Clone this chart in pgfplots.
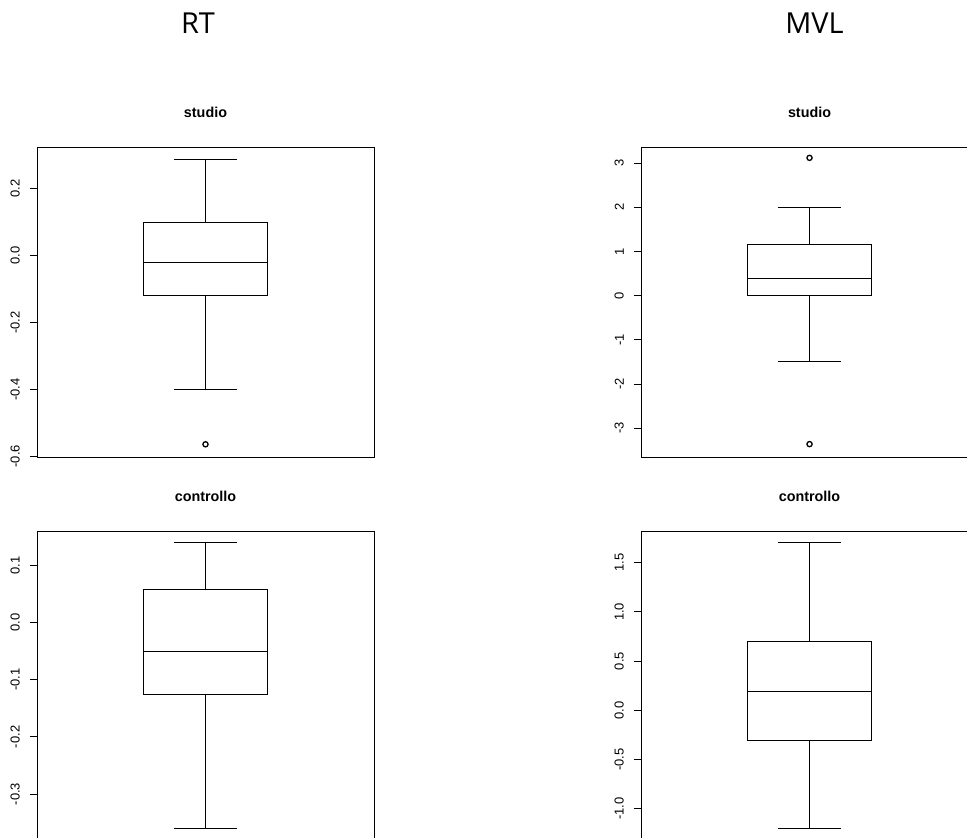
\documentclass[border=0pt]{standalone}
\usepackage{pgfplots}
\pgfplotsset{compat=1.18}
\usepgfplotslibrary{statistics}
\usepackage{fontspec}
\setmainfont{Liberation Sans}
\newfontfamily\headfont{Open Sans}
\begin{document}
\begin{tikzpicture}[x=1bp,y=1bp]
\pgfplotsset{
  rbox/.style={
    scale only axis, width=337bp, height=310bp,
    xmin=0.46, xmax=1.54,
    xtick=\empty,
    ytick pos=left,
    tick align=outside,
    major tick length=7bp,
    tick style={black, line width=0.9bp},
    axis line style={line width=1bp},
    yticklabel style={rotate=90, anchor=south, inner sep=0pt, font=\fontsize{13}{13}\selectfont},
    yticklabel shift=10bp,
    title style={at={(0.5,1)}, anchor=base, yshift=24bp, font=\bfseries\fontsize{14.4}{14.4}\selectfont},
    clip=false,
  },
  bx/.style={boxplot prepared={#1, draw position=1, box extend=0.4, whisker extend=0.2},
    boxplot/draw direction=y,
    black, solid, line width=1bp, mark=o, mark size=2.6bp, mark options={line width=1.3bp}},
}
% top-left: RT studio
\begin{axis}[rbox, at={(37bp,380.3bp)}, title={studio},
  ymin=-0.604, ymax=0.322,
  ytick={-0.6,-0.4,-0.2,0,0.2}, yticklabels={-0.6,-0.4,-0.2,0.0,0.2}]
\addplot[bx={lower whisker=-0.4, lower quartile=-0.121, median=-0.021, upper quartile=0.099, upper whisker=0.288}]
  table[row sep=\\, y index=0] {data\\ -0.564\\};
\end{axis}
% top-right: MVL studio
\begin{axis}[rbox, at={(641bp,380.3bp)}, title={studio},
  ymin=-3.667, ymax=3.35,
  ytick={-3,-2,-1,0,1,2,3}, yticklabels={-3,-2,-1,0,1,2,3}]
\addplot[bx={lower whisker=-1.49, lower quartile=0.0, median=0.39, upper quartile=1.155, upper whisker=2.0}]
  table[row sep=\\, y index=0] {data\\ 3.12\\ -3.36\\};
\end{axis}
% bottom-left: RT controllo
\begin{axis}[rbox, at={(37bp,-3.7bp)}, title={controllo},
  ymin=-0.3835, ymax=0.1594,
  ytick={-0.3,-0.2,-0.1,0,0.1}, yticklabels={-0.3,-0.2,-0.1,0.0,0.1}]
\addplot[bx={lower whisker=-0.360, lower quartile=-0.1249, median=-0.0508, upper quartile=0.059, upper whisker=0.1408}]
  coordinates {};
\end{axis}
% bottom-right: MVL controllo
\begin{axis}[rbox, at={(641bp,-3.7bp)}, title={controllo},
  ymin=-1.335, ymax=1.815,
  ytick={-1,-0.5,0,0.5,1,1.5}, yticklabels={-1.0,-0.5,0.0,0.5,1.0,1.5}]
\addplot[bx={lower whisker=-1.199, lower quartile=-0.302, median=0.193, upper quartile=0.697, upper whisker=1.707}]
  coordinates {};
\end{axis}
\node[anchor=base, font=\headfont\fontsize{29}{29}\selectfont] at (198,804) {RT};
\node[anchor=base, font=\headfont\fontsize{29}{29}\selectfont] at (814.5,804) {MVL};
\pgfresetboundingbox
\useasboundingbox (0,0) rectangle (967,838);
\end{tikzpicture}
\end{document}
